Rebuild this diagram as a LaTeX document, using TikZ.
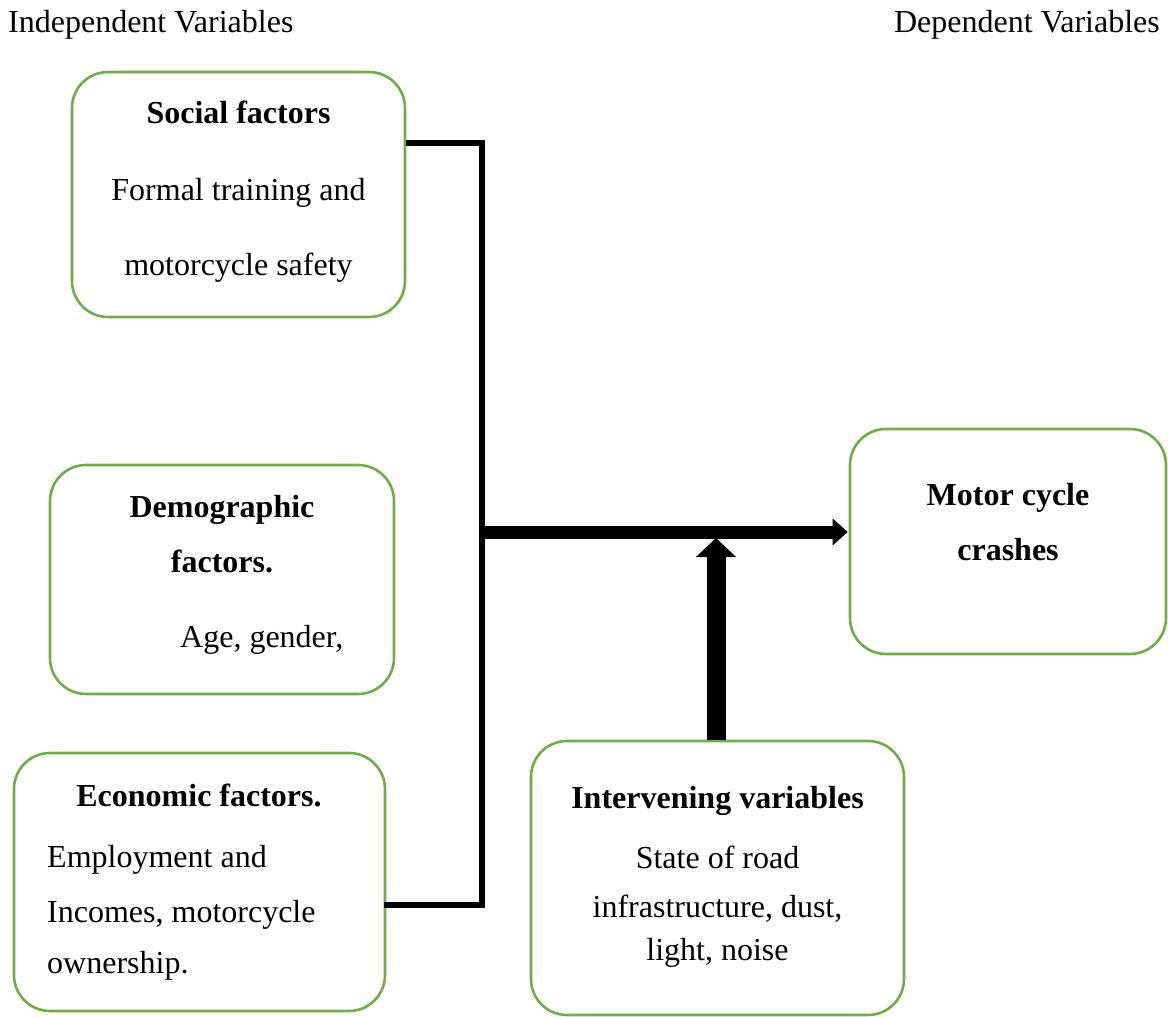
\documentclass[tikz,border=0pt]{standalone}
\usepackage{fontspec}
\setmainfont{Liberation Serif}
\usetikzlibrary{arrows.meta}
\definecolor{boxgreen}{HTML}{70AD47}
\begin{document}
\begin{tikzpicture}[x=1pt,y=-1pt,
  varbox/.style={draw=boxgreen,line width=2.6pt,rounded corners=36pt,inner sep=0pt,fill=white},
  txt/.style={inner sep=0pt,anchor=base,font=\fontsize{32}{38}\selectfont},
  txtl/.style={txt,anchor=base west},
  btxt/.style={txt,font=\fontsize{32}{38}\selectfont\bfseries},
  link/.style={line width=6pt,line cap=butt,line join=miter},
  bigarrow/.style={line width=13pt,-{Triangle[width=26pt,length=15pt]}},
  uparrow/.style={line width=19pt,-{Triangle[width=39pt,length=19pt]}}]
\useasboundingbox (0,0) rectangle (1168,1017);
% boxes
\node[varbox,minimum width=333pt,minimum height=245pt] (social) at (238.5,194.5) {};
\node[varbox,minimum width=344pt,minimum height=229pt] (demo) at (222,579.5) {};
\node[varbox,minimum width=371pt,minimum height=258pt] (econ) at (199.5,882) {};
\node[varbox,minimum width=373pt,minimum height=274pt] (inter) at (717.5,878) {};
\node[varbox,minimum width=316pt,minimum height=225pt] (motor) at (1008,541.5) {};
% headers
\node[txtl] (indep) at (8,32) {Independent Variables};
\node[txt,anchor=base east] (dep) at (1160,32) {Dependent Variables};
% social
\node[btxt] (s1) at (238.5,123) {Social factors};
\node[txt] (s2) at (238.5,200) {Formal training and};
\node[txt] (s3) at (238.5,275) {motorcycle safety};
% demographic
\node[btxt] (d1) at (222,517) {Demographic};
\node[btxt] (d2) at (222,572) {factors.};
\node[txtl] (d3) at (180,647) {Age, gender,};
% economic
\node[btxt] (e1) at (199,806) {Economic factors.};
\node[txtl] (e2) at (47,867) {Employment and};
\node[txtl] (e3) at (47,922) {Incomes, motorcycle};
\node[txtl] (e4) at (47,973) {ownership.};
% intervening
\node[btxt] (i1) at (717.5,808) {Intervening variables};
\node[txt] (i2) at (717.5,868) {State of road};
\node[txt] (i3) at (717.5,917) {infrastructure, dust,};
\node[txt] (i4) at (717.5,960) {light, noise};
% motor
\node[btxt] (m1) at (1008,505) {Motor cycle};
\node[btxt] (m2) at (1008,560) {crashes};
% connectors
\coordinate (jtop) at (482,143);
\coordinate (jbot) at (482,905);
\coordinate (jmid) at (482,532);
\coordinate (uptip) at (716,538);
\draw[link] (social.east |- jtop) -- (jtop) -- (jbot) -- ([xshift=-2pt]econ.east |- jbot);
\draw[bigarrow] ([xshift=-3pt]jmid) -- ([xshift=-1pt]motor.west |- jmid);
\draw[uparrow] (inter.north -| uptip) -- (uptip);
\end{tikzpicture}
\end{document}
